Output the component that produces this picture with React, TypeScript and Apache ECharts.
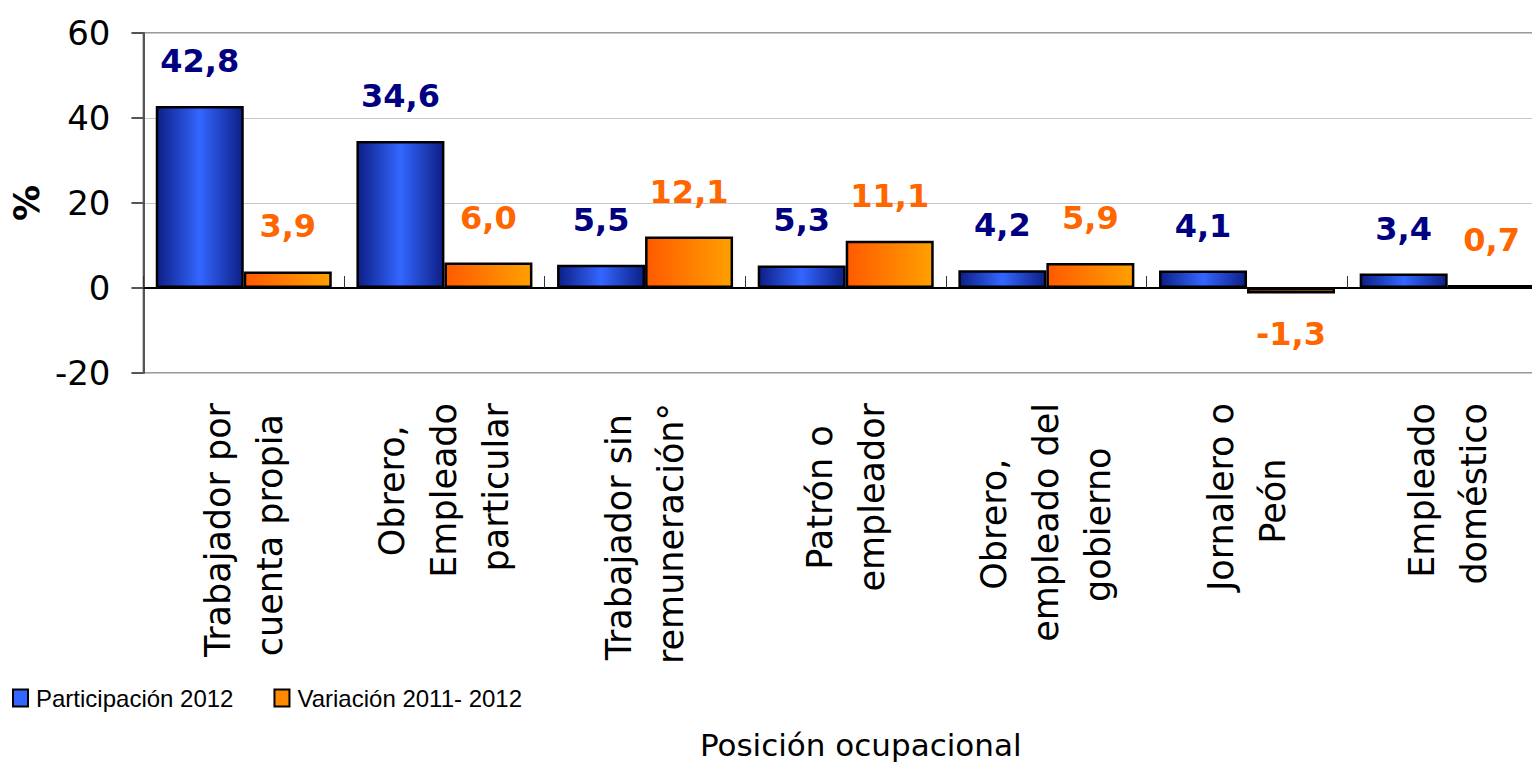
import React, { useEffect, useRef } from "react";
import * as echarts from "echarts";

const categories: string[] = [
  "Trabajador por\ncuenta propia",
  "Obrero,\nEmpleado\nparticular",
  "Trabajador sin\nremuneración°",
  "Patrón o\nempleador",
  "Obrero,\nempleado del\ngobierno",
  "Jornalero o\nPeón",
  "Empleado\ndoméstico",
];
const participacion: number[] = [42.8, 34.6, 5.5, 5.3, 4.2, 4.1, 3.4];
const variacion: number[] = [3.9, 6.0, 12.1, 11.1, 5.9, -1.3, 0.7];
const seriesNames = ["Participación 2012", "Variación 2011- 2012"];
const yTicks = { min: -20, max: 60, interval: 20 };

const fmt = (v: number) => v.toFixed(1).replace(".", ",");

const CAT_FONT = "DejaVu Sans";
const CAT_SIZE = 35;

export default function App() {
  const ref = useRef<HTMLDivElement>(null);
  useEffect(() => {
    if (!ref.current) return;
    const chart = echarts.init(ref.current, null, { renderer: "svg" });

    // Centre the lines of each (right-aligned, rotated) category label within its block
    const ctx = document.createElement("canvas").getContext("2d")!;
    ctx.font = `${CAT_SIZE}px "${CAT_FONT}"`;
    const NBSP = "\u00A0";
    const spW = ctx.measureText(NBSP.repeat(10)).width / 10 || CAT_SIZE * 0.318;
    const catText: string[] = categories.map((cat) => {
      const lines = cat.split("\n");
      const widths = lines.map((l) => ctx.measureText(l).width);
      const maxW = Math.max(...widths);
      return lines
        .map((l, j) => {
          const n = Math.round((maxW - widths[j]) / 2 / spW);
          return l + NBSP.repeat(Math.max(0, n));
        })
        .join("\n");
    });

    const blueGrad = new echarts.graphic.LinearGradient(0, 0, 1, 0, [
      { offset: 0, color: "#0d1f86" },
      { offset: 0.5, color: "#3366ff" },
      { offset: 1, color: "#0d1f86" },
    ]);
    const orangeGrad = new echarts.graphic.LinearGradient(0, 0, 1, 0, [
      { offset: 0, color: "#ff5a00" },
      { offset: 1, color: "#ffa000" },
    ]);
    const labelBase = {
      show: true,
      position: "top" as const,
      distance: 29,
      fontFamily: "DejaVu Sans",
      fontWeight: "bold" as const,
      fontSize: 32,
      formatter: (p: any) => fmt(Number(p.value)),
    };
    chart.setOption({
      animation: false,
      grid: {
        left: 143,
        top: 33,
        right: 0,
        bottom: 390,
        show: true,
        borderColor: "#9a9a9a",
        borderWidth: 2,
      },
      legend: {
        left: 12,
        top: 686,
        padding: 0,
        icon: "rect",
        itemWidth: 15,
        itemHeight: 17,
        itemGap: 40,
        textStyle: {
          fontFamily: "Liberation Sans",
          fontSize: 24,
          color: "#000",
          padding: [0, 0, 0, 3],
        },
        data: [
          { name: seriesNames[0], itemStyle: { color: "#3366ff", borderColor: "#000", borderWidth: 2 } },
          { name: seriesNames[1], itemStyle: { color: "#ff8a00", borderColor: "#000", borderWidth: 2 } },
        ],
      },
      xAxis: [
        {
          type: "category",
          data: categories,
          position: "bottom",
          axisLine: { show: false, onZero: false },
          axisTick: { show: false },
          axisLabel: {
            rotate: 90,
            margin: 30,
            interval: 0,
            fontFamily: CAT_FONT,
            fontSize: CAT_SIZE,
            lineHeight: 52,
            color: "#000",
            formatter: (_v: string, idx: number) => catText[idx],
          },
          name: "Posición ocupacional",
          nameLocation: "middle",
          nameGap: 356,
          nameTextStyle: {
            fontFamily: "DejaVu Sans",
            fontSize: 31,
            color: "#000",
            padding: [0, 0, 0, 30],
          },
        },
        {
          type: "category",
          data: categories,
          position: "bottom",
          axisLine: { show: true, onZero: true, lineStyle: { color: "#000", width: 2 } },
          axisTick: { show: true, inside: true, length: 12, lineStyle: { color: "#333", width: 1 } },
          axisLabel: { show: false },
        },
      ],
      yAxis: {
        type: "value",
        min: yTicks.min,
        max: yTicks.max,
        interval: yTicks.interval,
        axisLine: { show: true, lineStyle: { color: "#555", width: 2 } },
        axisTick: { show: true, length: 12, lineStyle: { color: "#555", width: 2 } },
        axisLabel: {
          fontFamily: "DejaVu Sans",
          fontSize: 34,
          color: "#000",
          margin: 33,
        },
        splitLine: { show: true, lineStyle: { color: "#c8c8c8", width: 1 } },
        name: "%",
        nameLocation: "middle",
        nameGap: 96,
        nameRotate: 90,
        nameTextStyle: { fontFamily: "DejaVu Sans", fontWeight: "bold", fontSize: 36, color: "#000" },
      },
      series: [
        {
          type: "bar",
          name: seriesNames[0],
          xAxisIndex: 0,
          data: participacion,
          barWidth: 88,
          barGap: "0%",
          itemStyle: { color: blueGrad, borderColor: "#000", borderWidth: 2.5 },
          label: { ...labelBase, color: "#000080" },
        },
        {
          type: "bar",
          name: seriesNames[1],
          xAxisIndex: 0,
          data: variacion.map((v) =>
            v < 0 ? { value: v, label: { position: "bottom", distance: 24 } } : v
          ),
          barWidth: 88,
          barGap: "0%",
          itemStyle: { color: orangeGrad, borderColor: "#000", borderWidth: 2.5 },
          label: { ...labelBase, color: "#ff6600" },
        },
      ],
    });
    return () => chart.dispose();
  }, []);
  return (
    <div
      style={{
        position: "absolute",
        left: 0,
        top: 0,
        width: 1532,
        height: 763,
        overflow: "hidden",
        background: "#fff",
      }}
    >
      <div ref={ref} style={{ position: "absolute", left: 0, top: 0, width: 1548, height: 763 }} />
    </div>
  );
}
